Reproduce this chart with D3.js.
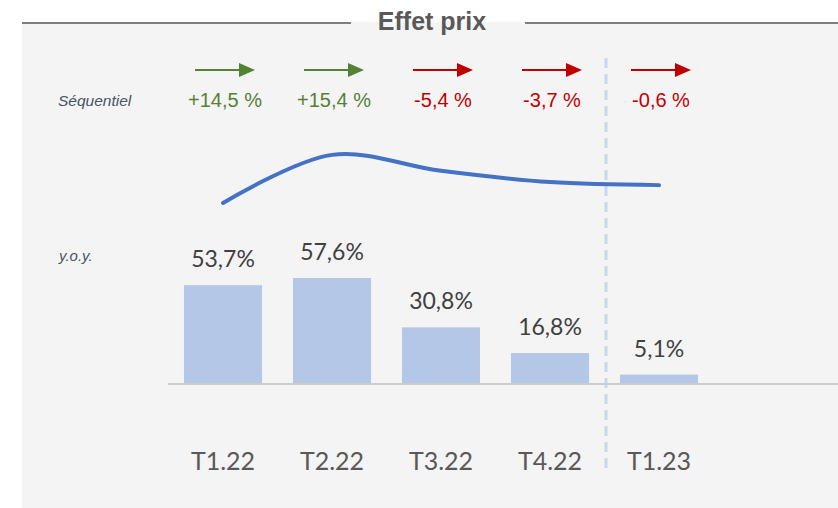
<!DOCTYPE html>
<html>
<head>
<meta charset="utf-8">
<script src="https://cdn.jsdelivr.net/npm/d3@7"></script>
<style>
  body { margin: 0; background: #ffffff; }
  svg { display: block; }
</style>
</head>
<body>
<script>
// data
const quarters = ["T1.22", "T2.22", "T3.22", "T4.22", "T1.23"];
const yoyValues = [53.7, 57.6, 30.8, 16.8, 5.1];          // y.o.y. bars
const seqValues = [14.5, 15.4, -5.4, -3.7, -0.6];         // sequential change
const lineValues = [100, 117.5, 111.7, 107.6, 106.5];      // price level curve (index)
const splitQuarter = "T1.23";                              // dashed separator before it

const width = 838, height = 508;

const fr = d3.formatLocale({ decimal: ",", thousands: " ", grouping: [3], currency: ["", " €"], minus: "-" });
const fmtSeq = v => fr.format("+.1f")(v) + " %";
const fmtYoy = v => fr.format(".1f")(v) + "%";

const svg = d3.select("body").append("svg")
    .attr("width", width)
    .attr("height", height);

// grey panel + title rule
svg.append("rect")
    .attr("x", 22).attr("y", 22)
    .attr("width", width - 22).attr("height", height - 22)
    .attr("fill", "#f4f4f4");

svg.append("line")
    .attr("x1", 22).attr("x2", 351).attr("y1", 23).attr("y2", 23)
    .attr("stroke", "#7f7f7f").attr("stroke-width", 2);
svg.append("line")
    .attr("x1", 525).attr("x2", width).attr("y1", 23).attr("y2", 23)
    .attr("stroke", "#7f7f7f").attr("stroke-width", 2);

svg.append("text")
    .attr("x", 432).attr("y", 30)
    .attr("text-anchor", "middle")
    .attr("font-family", "Liberation Sans, Arial, sans-serif")
    .attr("font-weight", "bold")
    .attr("font-size", 25)
    .attr("fill", "#595959")
    .text("Effet prix");

// scales
const x = d3.scaleBand()
    .domain(quarters)
    .range([168.5, 713.5])
    .paddingInner(0.284)
    .paddingOuter(0.142);

const y = d3.scaleLinear().domain([0, 60]).range([384, 273.6]);
const yLine = d3.scaleLinear().domain([100, 120]).range([203, 148]);

const cx = q => x(q) + x.bandwidth() / 2;

// dashed separator
const sepX = x(splitQuarter) - x.step() * x.paddingInner() / 2 + 1.5;
svg.append("line")
    .attr("x1", sepX).attr("x2", sepX)
    .attr("y1", 58).attr("y2", 468)
    .attr("stroke", "#c5d9ee")
    .attr("stroke-width", 3)
    .attr("stroke-dasharray", "10,6");

// side labels
svg.append("text")
    .attr("x", 58).attr("y", 106)
    .attr("font-family", "Liberation Sans, Arial, sans-serif")
    .attr("font-style", "italic")
    .attr("font-size", 15.5)
    .attr("fill", "#44546a")
    .text("Séquentiel");

svg.append("text")
    .attr("x", 59).attr("y", 261)
    .attr("font-family", "Liberation Sans, Arial, sans-serif")
    .attr("font-style", "italic")
    .attr("font-size", 15)
    .attr("fill", "#44546a")
    .text("y.o.y.");

// sequential arrows + labels
const seqColor = v => v >= 0 ? "#548235" : "#c00000";

const arrows = svg.selectAll(".arrow")
    .data(quarters)
    .enter().append("g")
    .attr("class", "arrow")
    .attr("transform", q => `translate(${cx(q) + 2},70)`);

arrows.append("line")
    .attr("x1", -30).attr("x2", 16)
    .attr("y1", 0).attr("y2", 0)
    .attr("stroke", (q, i) => seqColor(seqValues[i]))
    .attr("stroke-width", 2.2);

arrows.append("path")
    .attr("d", "M14,-7L30,0L14,7Z")
    .attr("fill", (q, i) => seqColor(seqValues[i]));

svg.selectAll(".seq-label")
    .data(seqValues)
    .enter().append("text")
    .attr("class", "seq-label")
    .attr("x", (d, i) => cx(quarters[i]) + 2)
    .attr("y", 107)
    .attr("text-anchor", "middle")
    .attr("font-family", "Liberation Sans, Arial, sans-serif")
    .attr("font-size", 20)
    .attr("fill", d => seqColor(d))
    .text(d => fmtSeq(d));

// smooth line
const line = d3.line()
    .x((d, i) => cx(quarters[i]))
    .y(d => yLine(d))
    .curve(d3.curveCatmullRom.alpha(0.5));

svg.append("path")
    .datum(lineValues)
    .attr("fill", "none")
    .attr("stroke", "#4472c4")
    .attr("stroke-width", 4)
    .attr("stroke-linecap", "round")
    .attr("d", line);

// bars
svg.selectAll(".bar")
    .data(yoyValues)
    .enter().append("rect")
    .attr("class", "bar")
    .attr("x", (d, i) => x(quarters[i]))
    .attr("y", d => y(d))
    .attr("width", x.bandwidth())
    .attr("height", d => y(0) - y(d))
    .attr("fill", "#b4c7e7");

svg.selectAll(".bar-label")
    .data(yoyValues)
    .enter().append("text")
    .attr("class", "bar-label")
    .attr("x", (d, i) => cx(quarters[i]))
    .attr("y", d => y(d) - 18)
    .attr("text-anchor", "middle")
    .attr("font-family", "Lato, sans-serif")
    .attr("font-size", 23)
    .attr("fill", "#404040")
    .text(d => fmtYoy(d));

// baseline axis
const xAxis = d3.axisBottom(x).tickSize(0).tickPadding(0);
const gx = svg.append("g")
    .attr("transform", `translate(0,${y(0)})`)
    .call(xAxis);
gx.select(".domain").remove();
gx.append("line")
    .attr("x1", 168).attr("x2", width)
    .attr("y1", 0).attr("y2", 0)
    .attr("stroke", "#cccccc")
    .attr("stroke-width", 2);
gx.selectAll(".tick text")
    .attr("dy", null)
    .attr("y", 86)
    .attr("font-family", "Lato, sans-serif")
    .attr("font-size", 25)
    .attr("fill", "#595959");
</script>
</body>
</html>
